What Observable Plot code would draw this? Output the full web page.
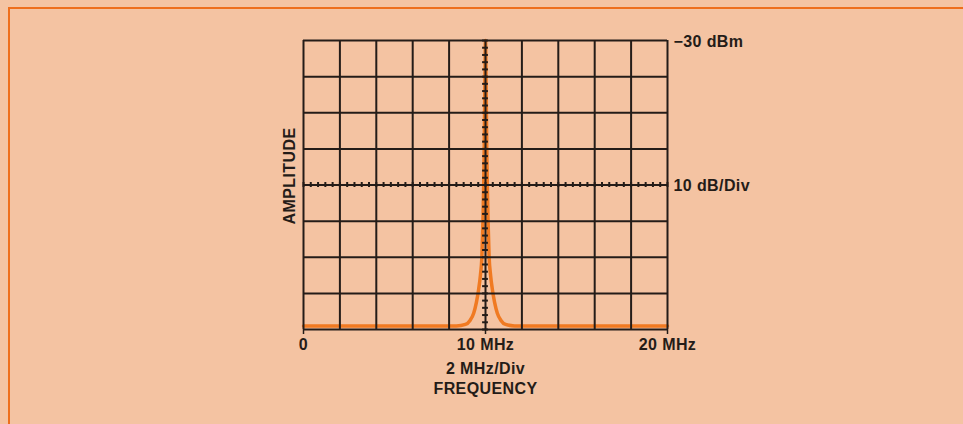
<!DOCTYPE html>
<html>
<head>
<meta charset="utf-8">
<script src="https://cdn.jsdelivr.net/npm/d3@7"></script>
<script src="https://cdn.jsdelivr.net/npm/@observablehq/plot@0.6"></script>
<style>
  html, body { margin: 0; padding: 0; background: #f4c3a2; width: 963px; height: 424px; overflow: hidden; }
  #wrap { position: relative; width: 963px; height: 424px; }
  #border { position: absolute; left: 8px; top: 7px; right: -10px; bottom: -10px; border-top: 2px solid #ee6e1c; border-left: 2px solid #ee6e1c; pointer-events: none; }
  #chart { position: absolute; left: 0; top: 0; }
</style>
</head>
<body>
<div id="wrap"><div id="border"></div><div id="chart"></div></div>
<script>
// Spectrum trace (frequency in MHz, amplitude in dBm)
const freqMHz = [0, 8.4, 8.9, 9.15, 9.35, 9.5, 9.62, 9.72, 9.8, 9.86, 9.9, 9.93, 9.95, 9.97, 10.0,
                 10.03, 10.05, 10.07, 10.1, 10.14, 10.2, 10.28, 10.38, 10.5, 10.65, 10.85, 11.1, 11.6, 20];
const ampDbm  = [-109, -109, -108.6, -107.5, -105.5, -102.5, -99, -95, -90, -80, -70, -60, -50, -40, -30,
                 -40, -50, -60, -70, -80, -90, -95, -99, -102.5, -105.5, -107.5, -108.6, -109, -109];

// Graticule
const xMajor = [0, 2, 4, 6, 8, 10, 12, 14, 16, 18, 20];
const yMajor = [-110, -100, -90, -80, -70, -60, -50, -40, -30];
const xCenter = 10;
const yCenter = -70;

// Labels
const xTickAt = [0, 10, 20];
const xTickLabels = ["0", "10 MHz", "20 MHz"];
const xCaption = "2 MHz/Div\nFREQUENCY";
const yLabelAt = [-30, -70];
const yLabels = ["\u221230 dBm", "10 dB/Div"];
const yTitle = "AMPLITUDE";

const minorX = d3.range(0, 20.0001, 0.4);
const minorY = d3.range(-110, -29.999, 2);

const ink = "#241c18";
const trace = freqMHz.map((f, i) => ({f, a: ampDbm[i]}));
const font = "'Liberation Sans', Arial, Helvetica, sans-serif";

const chart = Plot.plot({
  width: 963,
  height: 424,
  marginLeft: 303,
  marginRight: 296,
  marginTop: 40,
  marginBottom: 95,
  x: {domain: [0, 20], axis: null},
  y: {domain: [-110, -30], axis: null},
  style: {background: "transparent", fontFamily: font, color: ink},
  marks: [
    Plot.line(trace, {x: "f", y: "a", stroke: "#f07a22", strokeWidth: 3.5, curve: "monotone-x"}),
    Plot.ruleX(xMajor, {stroke: ink, strokeWidth: 2, strokeOpacity: 1}),
    Plot.ruleY(yMajor, {stroke: ink, strokeWidth: 2, strokeOpacity: 1}),
    Plot.ruleX(minorX, {y1: yCenter - 0.7, y2: yCenter + 0.7, stroke: ink, strokeWidth: 2}),
    Plot.ruleY(minorY, {x1: xCenter - 0.16, x2: xCenter + 0.16, stroke: ink, strokeWidth: 2}),
    Plot.axisX(xTickAt, {
      tickSize: 5, tickPadding: 4, stroke: ink, strokeWidth: 1.5,
      tickFormat: (d, i) => xTickLabels[i],
      fontSize: 16, fontWeight: "bold", label: null
    }),
    Plot.text([xCaption], {
      x: xCenter, y: -110, dy: 31, lineAnchor: "top", lineHeight: 1.22,
      fontSize: 16, fontWeight: "bold", fill: ink
    }),
    Plot.text(yLabels, {
      x: 20, y: (d, i) => yLabelAt[i], dx: 6, dy: 1, textAnchor: "start",
      fontSize: 16, fontWeight: "bold", fill: ink
    }),
    Plot.text([yTitle], {
      x: 0, y: -67.5, dx: -14, rotate: -90,
      fontSize: 16, fontWeight: "bold", fill: ink, letterSpacing: "1px"
    })
  ]
});
chart.style.letterSpacing = "0.4px";
document.getElementById("chart").appendChild(chart);
</script>
</body>
</html>
